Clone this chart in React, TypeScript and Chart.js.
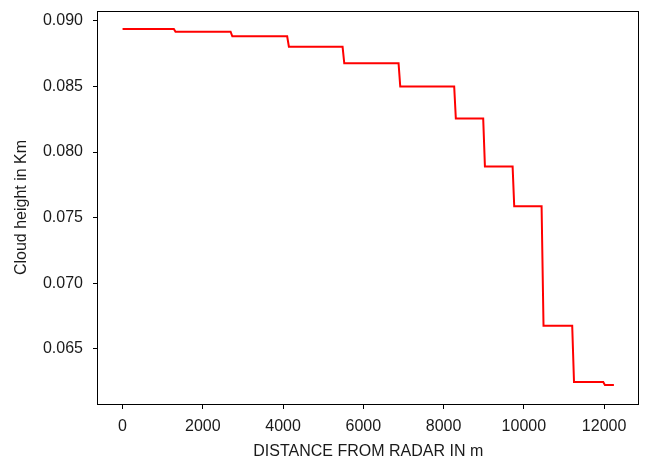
import React, { useEffect, useRef } from "react";
import { Chart, registerables } from "chart.js";

Chart.register(...registerables);

// Distance from radar (m) and cloud height (Km)
const distances = [
  0, 1278, 1320, 2692, 2735, 4102, 4145, 5483, 5525, 6878, 6920, 8264, 8305,
  8987, 9030, 9720, 9760, 10442, 10490, 11205, 11250, 11978, 12020, 12244,
];
const heights = [
  0.08939, 0.08939, 0.08918, 0.08918, 0.08883, 0.08883, 0.08803, 0.08803,
  0.08677, 0.08677, 0.085, 0.085, 0.08255, 0.08255, 0.07889, 0.07889, 0.07586,
  0.07586, 0.06675, 0.06675, 0.06246, 0.06246, 0.06223, 0.06223,
];
const xTicks = [0, 2000, 4000, 6000, 8000, 10000, 12000];
const yTicks = [0.065, 0.07, 0.075, 0.08, 0.085, 0.09];

const xTitle = "DISTANCE FROM RADAR IN m";
const yTitle = "Cloud height in Km";

const FONT = "'Liberation Sans', Arial, sans-serif";
const SIZE = 16;

export default function App() {
  const ref = useRef<HTMLCanvasElement | null>(null);

  useEffect(() => {
    if (!ref.current) return;
    const boxPlugin = {
      id: "box",
      afterDraw(chart: any) {
        const { ctx, chartArea } = chart;
        ctx.save();
        ctx.strokeStyle = "#000";
        ctx.lineWidth = 1;
        ctx.strokeRect(
          Math.round(chartArea.left) - 0.5,
          Math.round(chartArea.top) + 0.5,
          Math.round(chartArea.right - chartArea.left),
          Math.round(chartArea.bottom - chartArea.top)
        );
        ctx.restore();
      },
    };
    const chart = new Chart(ref.current, {
      type: "line",
      data: {
        datasets: [
          {
            data: distances.map((d, i) => ({ x: d, y: heights[i] })),
            borderColor: "#ff0000",
            borderWidth: 2,
            pointRadius: 0,
            fill: false,
            tension: 0,
          },
        ],
      },
      options: {
        animation: false,
        responsive: false,
        devicePixelRatio: 1,
        layout: { padding: { left: 0, right: 7.5, top: 11, bottom: 0 } },
        plugins: {
          legend: { display: false },
          tooltip: { enabled: false },
        },
        scales: {
          x: {
            type: "linear",
            min: -612,
            max: 12857,
            afterFit(scale: any) {
              scale.height = 55;
              scale.paddingLeft = 0;
              scale.paddingRight = 0;
            },
            afterBuildTicks(scale: any) {
              scale.ticks = xTicks.map((v) => ({ value: v }));
            },
            border: { display: false },
            grid: {
              drawOnChartArea: false,
              drawTicks: true,
              tickLength: 5,
              color: "#000",
              lineWidth: 1,
            },
            ticks: {
              color: "#1a1a1a",
              font: { family: FONT, size: SIZE },
              padding: 8,
              maxRotation: 0,
              callback: (v: any) => String(v),
            },
            title: {
              display: true,
              text: xTitle,
              color: "#1a1a1a",
              font: { family: FONT, size: SIZE, lineHeight: 0.95 },
              padding: { top: 0, bottom: 0 },
            },
          },
          y: {
            type: "linear",
            min: 0.06078,
            max: 0.09076,
            afterFit(scale: any) {
              scale.width = 98;
              scale.paddingTop = 0;
              scale.paddingBottom = 0;
            },
            afterBuildTicks(scale: any) {
              scale.ticks = yTicks.map((v) => ({ value: v }));
            },
            border: { display: false },
            grid: {
              drawOnChartArea: false,
              drawTicks: true,
              tickLength: 5,
              color: "#000",
              lineWidth: 1,
            },
            ticks: {
              color: "#1a1a1a",
              font: { family: FONT, size: SIZE },
              padding: 10,
              callback: (v: any) => Number(v).toFixed(3),
            },
            title: {
              display: true,
              text: yTitle,
              color: "#1a1a1a",
              font: { family: FONT, size: SIZE },
              padding: { top: 12, bottom: 0 },
            },
          },
        },
      },
      plugins: [boxPlugin],
    });
    return () => chart.destroy();
  }, []);

  return (
    <div
      style={{
        position: "fixed",
        left: 0,
        top: 0,
        width: 646,
        height: 459,
        background: "#fff",
      }}
    >
      <canvas ref={ref} width={646} height={459} />
    </div>
  );
}
